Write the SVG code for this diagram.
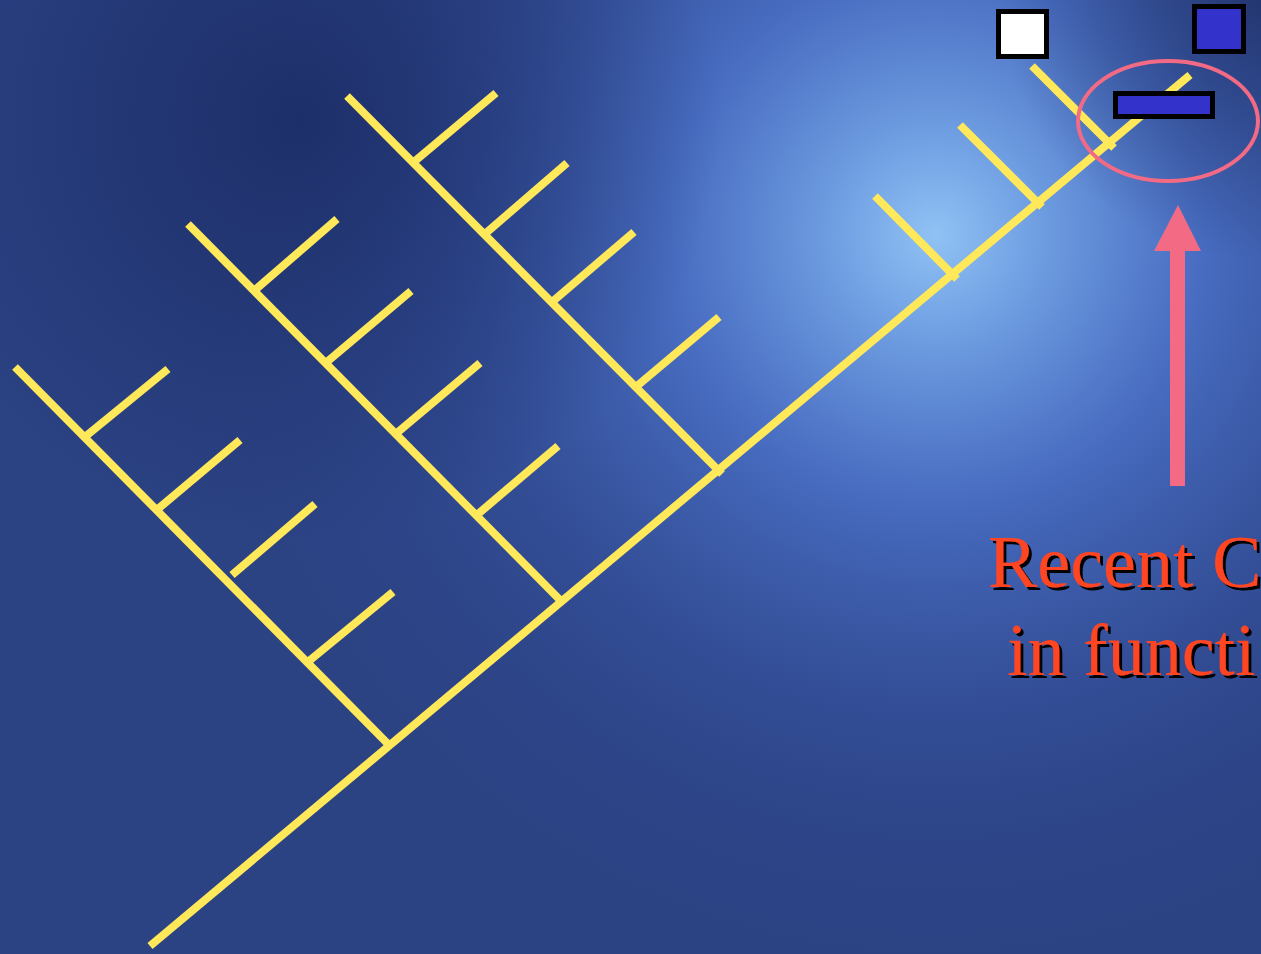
<svg xmlns="http://www.w3.org/2000/svg" width="1261" height="954" viewBox="0 0 1261 954">
<defs>
<radialGradient id="glow" cx="935" cy="235" r="760" gradientUnits="userSpaceOnUse">
<stop offset="0" stop-color="#90c2f4"/>
<stop offset="0.12" stop-color="#72a2e4"/>
<stop offset="0.35" stop-color="#4d74cc" stop-opacity="0.85"/>
<stop offset="0.65" stop-color="#3a58a8" stop-opacity="0.45"/>
<stop offset="1" stop-color="#2b4283" stop-opacity="0"/>
</radialGradient>
<radialGradient id="dark" cx="300" cy="120" r="420" gradientUnits="userSpaceOnUse">
<stop offset="0" stop-color="#1b2c66" stop-opacity="0.85"/>
<stop offset="1" stop-color="#1b2c66" stop-opacity="0"/>
</radialGradient>
<radialGradient id="dark2" cx="1261" cy="0" r="260" gradientUnits="userSpaceOnUse">
<stop offset="0" stop-color="#1e2f66" stop-opacity="0.8"/>
<stop offset="1" stop-color="#1e2f66" stop-opacity="0"/>
</radialGradient>
<filter id="shadow" x="-5%" y="-20%" width="110%" height="140%">
<feDropShadow dx="3" dy="3" stdDeviation="0" flood-color="#000" flood-opacity="1"/>
</filter>
<style>
.br{stroke:#ffe85a;stroke-width:8;stroke-linecap:butt;fill:none}
.box{stroke:#000;stroke-width:5}
.txt{font-family:"Liberation Serif","Times New Roman",serif;font-size:74px;fill:#ff4420;filter:url(#shadow)}
</style>
</defs>
<rect width="1261" height="954" fill="#2b4283"/>
<rect width="1261" height="954" fill="url(#glow)"/>
<rect width="1261" height="954" fill="url(#dark)"/>
<rect width="1261" height="954" fill="url(#dark2)"/>

<g id="connectors">
<line class="br" x1="150" y1="946" x2="1190" y2="75"/>
<line class="br" x1="15" y1="367" x2="391" y2="747"/>
<line class="br" x1="86" y1="436" x2="168" y2="369"/>
<line class="br" x1="159" y1="508" x2="240" y2="440"/>
<line class="br" x1="232" y1="575" x2="315" y2="504"/>
<line class="br" x1="309" y1="661" x2="393" y2="592"/>
<line class="br" x1="188" y1="224" x2="563" y2="603"/>
<line class="br" x1="255" y1="290" x2="337" y2="219"/>
<line class="br" x1="328" y1="361" x2="411" y2="291"/>
<line class="br" x1="398" y1="432" x2="480" y2="363"/>
<line class="br" x1="478" y1="514" x2="558" y2="446"/>
<line class="br" x1="347" y1="96" x2="722" y2="474"/>
<line class="br" x1="415" y1="161" x2="496" y2="93"/>
<line class="br" x1="486" y1="233" x2="567" y2="163"/>
<line class="br" x1="552" y1="302" x2="634" y2="232"/>
<line class="br" x1="637" y1="386" x2="719" y2="317"/>
<line class="br" x1="875" y1="196" x2="957" y2="279"/>
<line class="br" x1="960" y1="125" x2="1042" y2="207"/>
<line class="br" x1="1032" y1="66" x2="1114" y2="148"/>
</g>

<g id="node-white">
<rect class="box" x="998.5" y="11.5" width="48" height="45" fill="#ffffff"/>
</g>
<g id="node-blue-square">
<rect class="box" x="1194.5" y="6.5" width="49" height="45" fill="#3333cc"/>
</g>
<g id="node-blue-bar">
<rect class="box" x="1115.5" y="93.5" width="97" height="23" fill="#3333cc"/>
</g>
<g id="highlight">
<ellipse cx="1168" cy="121" rx="90" ry="60" fill="none" stroke="#f26a84" stroke-width="4"/>
</g>
<g id="arrow">
<rect x="1170" y="248" width="15" height="238" fill="#f26a84"/>
<polygon points="1154,251 1201,251 1178,205" fill="#f26a84"/>
</g>
<g id="label">
<text class="txt" x="988" y="587">Recent C</text>
<text class="txt" x="1007" y="675">in functi</text>
</g>
</svg>
